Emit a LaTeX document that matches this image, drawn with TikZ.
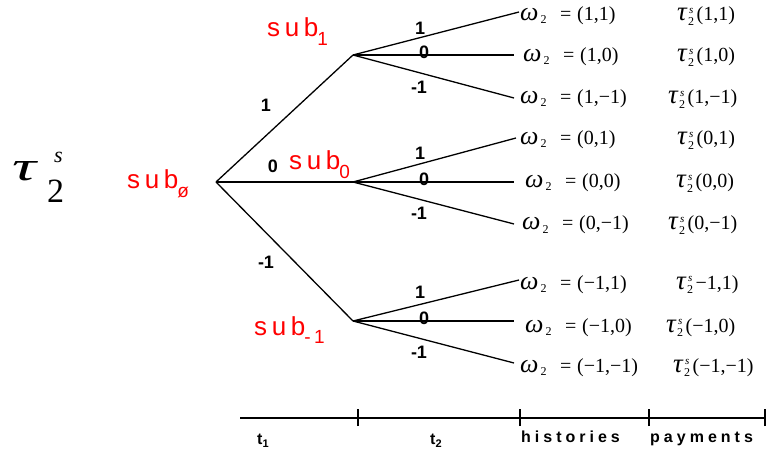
\RequirePackage{fix-cm}
\documentclass[tikz,border=0pt]{standalone}
\usepackage{fontspec}
\setmainfont{Liberation Serif}
\newfontfamily\subfont[LetterSpace=18]{Liberation Sans}
\newfontfamily\boldsans[LetterSpace=25]{Liberation Sans Bold}
\newfontfamily\plainsans{Liberation Sans Bold}
% omega label with fixed internal layout
\newcommand{\wl}[1]{\makebox[40pt][l]{$\hbox{\fontsize{26}{26}\selectfont\textit{ω}}_{\hbox{\kern2pt\fontsize{12}{12}\selectfont 2}}$}\makebox[17pt][l]{=}(#1)}
% payment label
\newcommand{\tl}[1]{$\hbox{\fontsize{27}{27}\selectfont\textit{τ}}^{\hbox{\kern1.5pt\fontsize{11}{11}\selectfont\textit{s}}}_{\hbox{\kern0.5pt\fontsize{12}{12}\selectfont 2}}$\kern2pt#1}
\begin{document}
\begin{tikzpicture}[x=1pt,y=-1pt,
  branch/.style={line width=1.3pt},
  axisline/.style={line width=2.2pt},
  tickmark/.style={line width=2.2pt},
  edgelab/.style={font=\plainsans\fontsize{18}{18}\selectfont, inner sep=0pt},
  sublab/.style={font=\subfont\fontsize{26}{26}\selectfont, text=red, inner sep=0pt, anchor=base west},
  leaflab/.style={font=\fontsize{20}{20}\selectfont, inner sep=0pt, anchor=base west},
  axislab/.style={font=\boldsans\fontsize{16}{16}\selectfont, inner sep=0pt, anchor=base west}]
\useasboundingbox (0,0) rectangle (773,454);
% tree points
\coordinate (r) at (216,182);
\coordinate (s1) at (353,55);
\coordinate (s0) at (353,182);
\coordinate (sm) at (353,321);
\coordinate (l1) at (519,12);
\coordinate (l2) at (514,55);
\coordinate (l3) at (514,98);
\coordinate (l4) at (516,138);
\coordinate (l5) at (514,182);
\coordinate (l6) at (514,224);
\coordinate (l7) at (519,280);
\coordinate (l8) at (514,321);
\coordinate (l9) at (514,363);
\draw[branch] (r) -- (s1);
\draw[branch] (r) -- (s0);
\draw[branch] (r) -- (sm);
\draw[branch] (s1) -- (l1);
\draw[branch] (s1) -- (l2);
\draw[branch] (s1) -- (l3);
\draw[branch] (s0) -- (l4);
\draw[branch] (s0) -- (l5);
\draw[branch] (s0) -- (l6);
\draw[branch] (sm) -- (l7);
\draw[branch] (sm) -- (l8);
\draw[branch] (sm) -- (l9);
% edge labels
\node[edgelab] (e1) at (266,105) {1};
\node[edgelab] (e0) at (273,166) {0};
\node[edgelab] (em) at (266,262) {-1};
\node[edgelab] (a1) at (420,28) {1};
\node[edgelab] (a0) at (424,52) {0};
\node[edgelab] (am) at (419,87) {-1};
\node[edgelab] (b1) at (420,153) {1};
\node[edgelab] (b0) at (424,179) {0};
\node[edgelab] (bm) at (419,213) {-1};
\node[edgelab] (c1) at (420,292) {1};
\node[edgelab] (c0) at (424,318) {0};
\node[edgelab] (cm) at (419,352) {-1};
% sub labels
\node[sublab] (sub1) at (267,37) {sub\hspace{-1pt}\raisebox{-9pt}{\fontsize{19}{19}\selectfont 1}};
\node[sublab] (sub0) at (289,170) {sub\hspace{-1pt}\raisebox{-9pt}{\fontsize{19}{19}\selectfont 0}};
\node[sublab] (subr) at (127,189) {sub\hspace{-1pt}\raisebox{-9pt}{\fontsize{19}{19}\selectfont ø}};
\node[sublab] (subm) at (254,335) {sub\hspace{-1pt}\raisebox{-8pt}{\fontsize{19}{19}\selectfont -1}};
% big tau
\node[inner sep=0pt, anchor=base west] (bigtau) at (12,181) {\resizebox{26pt}{19pt}{\fontsize{44}{44}\selectfont\textit{τ}}};
\node[inner sep=0pt, anchor=base west, font=\fontsize{22}{22}\selectfont] (bigs) at (54,163) {\textit{s}};
\node[inner sep=0pt, anchor=base west, font=\fontsize{34}{34}\selectfont] (bigtwo) at (47,203) {2};
% omega labels
\node[leaflab] (w1) at (520,21) {\wl{1,1}};
\node[leaflab] (w2) at (523,62) {\wl{1,0}};
\node[leaflab] (w3) at (520,104) {\wl{1,−1}};
\node[leaflab] (w4) at (520,145) {\wl{0,1}};
\node[leaflab] (w5) at (525,188) {\wl{0,0}};
\node[leaflab] (w6) at (522,230) {\wl{0,−1}};
\node[leaflab] (w7) at (520,289) {\wl{−1,1}};
\node[leaflab] (w8) at (525,332) {\wl{−1,0}};
\node[leaflab] (w9) at (520,372) {\wl{−1,−1}};
% payment labels
\node[leaflab] (p1) at (677,21) {\tl{(1,1)}};
\node[leaflab] (p2) at (677,62) {\tl{(1,0)}};
\node[leaflab] (p3) at (668,104) {\tl{(1,−1)}};
\node[leaflab] (p4) at (677,145) {\tl{(0,1)}};
\node[leaflab] (p5) at (676,188) {\tl{(0,0)}};
\node[leaflab] (p6) at (668,230) {\tl{(0,−1)}};
\node[leaflab] (p7) at (676,289) {\tl{−1,1)}};
\node[leaflab] (p8) at (666,332) {\tl{(−1,0)}};
\node[leaflab] (p9) at (673,372) {\tl{(−1,−1)}};
% time axis
\coordinate (ax0) at (240,418);
\coordinate (ax1) at (358,418);
\coordinate (ax2) at (520,418);
\coordinate (ax3) at (649,418);
\coordinate (ax4) at (765,418);
\draw[axisline] (ax0) -- (ax4);
\foreach \t in {ax1,ax2,ax3,ax4} \draw[tickmark] ([yshift=-8pt]\t) -- ([yshift=9pt]\t);
\node[axislab] (t1) at (257,444) {t\raisebox{-0.45ex}{\fontsize{11}{11}\selectfont 1}};
\node[axislab] (t2) at (430,444) {t\raisebox{-0.45ex}{\fontsize{11}{11}\selectfont 2}};
\node[axislab] (hist) at (521,442) {histories};
\node[axislab] (pay) at (650,442) {payments};
\end{tikzpicture}
\end{document}
